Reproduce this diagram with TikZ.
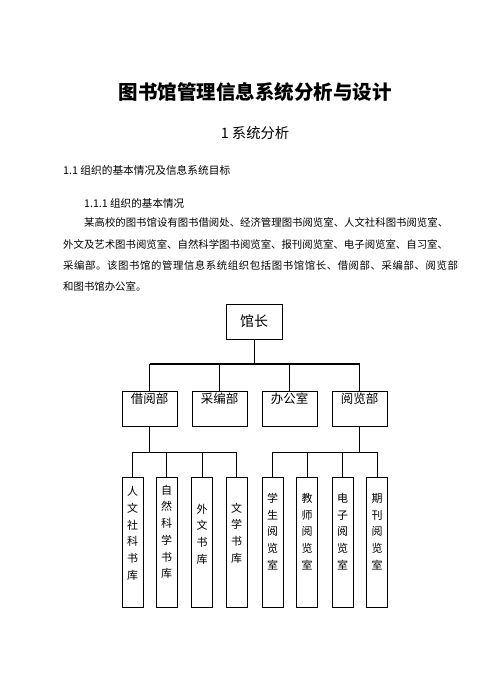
\documentclass[tikz,border=0pt]{standalone}
\usepackage{fontspec}
\setmainfont{Noto Sans CJK SC}
\tikzset{
  box/.style={draw, line width=0.8pt, inner sep=0pt},
  topbox/.style={box, minimum width=56pt, minimum height=35pt, font=\fontsize{14}{16}\selectfont},
  deptbox/.style={box, minimum width=55pt, minimum height=35pt, text height=12.75pt, text depth=22.25pt, font=\fontsize{12.5}{14}\selectfont},
  leafbox/.style={box, minimum width=21pt, minimum height=130pt},
  leaftext/.style={inner sep=0pt, align=center, font=\fontsize{11}{16.7}\selectfont},
  link/.style={line width=0.8pt},
  bus/.style={line width=1.8pt},
  bodytext/.style={anchor=west, inner sep=0pt, font=\fontsize{10.4}{12}\selectfont},
  headtext/.style={inner sep=0pt},
}
\begin{document}
\begin{tikzpicture}[x=1pt,y=-1pt]
\fill[white] (0,0) rectangle (496,688);
\useasboundingbox (0,0) rectangle (496,688);

% headings
\node[headtext, font=\fontsize{19.5}{21}\selectfont\bfseries] (title) at (255,92) {图书馆管理信息系统分析与设计};
\node[headtext, font=\fontsize{14.3}{16}\selectfont] (sec) at (255,133) {1 系统分析};
\node[headtext, anchor=west, font=\fontsize{10.7}{12}\selectfont] (sub) at (63,170) {1.1 组织的基本情况及信息系统目标};
\node[headtext, anchor=west, font=\fontsize{10.6}{12}\selectfont] (subsub) at (84,203) {1.1.1 组织的基本情况};

% body
\node[bodytext] (p1) at (84,223) {某高校的图书馆设有图书借阅处、经济管理图书阅览室、人文社科图书阅览室、};
\node[bodytext] (p2) at (63,244.5) {外文及艺术图书阅览室、自然科学图书阅览室、报刊阅览室、电子阅览室、自习室、};
\node[bodytext] (p3) at (63,266) {\addfontfeature{LetterSpace=5.6}采编部。该图书馆的管理信息系统组织包括图书馆馆长、借阅部、采编部、阅览部};
\node[bodytext] (p4) at (63,287) {和图书馆办公室。};

% chart
\node[topbox] (gz) at (254,321.5) {馆长};
\node[deptbox] (d1) at (149.5,408.5) {借阅部};
\node[deptbox] (d2) at (219.5,408.5) {采编部};
\node[deptbox] (d3) at (289.5,408.5) {办公室};
\node[deptbox] (d4) at (359.5,408.5) {阅览部};

\node[leafbox] (l1) at (132.5,542) {};
\node[leafbox] (l2) at (166.5,542) {};
\node[leafbox] (l3) at (202,542) {};
\node[leafbox] (l4) at (236.5,542) {};
\node[leafbox] (l5) at (272.5,542) {};
\node[leafbox] (l6) at (307,542) {};
\node[leafbox] (l7) at (342.5,542) {};
\node[leafbox] (l8) at (377,542) {};

\node[leaftext] (t1) at (l1 |- 0,533.5) {人\\文\\社\\科\\书\\库};
\node[leaftext] (t2) at (l2 |- 0,531.8) {自\\然\\科\\学\\书\\库};
\node[leaftext] (t3) at (l3 |- 0,534) {外\\文\\书\\库};
\node[leaftext] (t4) at (l4 |- 0,533) {文\\学\\书\\库};
\node[leaftext] (t5) at (l5 |- 0,531.5) {学\\生\\阅\\览\\室};
\node[leaftext] (t6) at (l6 |- 0,531.5) {教\\师\\阅\\览\\室};
\node[leaftext] (t7) at (l7 |- 0,531.5) {电\\子\\阅\\览\\室};
\node[leaftext] (t8) at (l8 |- 0,531.5) {期\\刊\\阅\\览\\室};

% connectors
\coordinate (j1) at (254,364);
\coordinate (j2) at (149.5,452);
\coordinate (j3) at (359.5,452);
\draw[link] (gz.south) -- (j1);
\draw[bus] (j1 -| d1.north) -- (j1 -| d4.north);
\foreach \d in {d1,d2,d3,d4} \draw[link] (j1 -| \d.north) -- (\d.north);
\draw[link] (d1.south) -- (j2);
\draw[link] (j2 -| l1.north) -- (j2 -| l4.north);
\foreach \l in {l1,l2,l3,l4} \draw[link] (j2 -| \l.north) -- (\l.north);
\draw[link] (d4.south) -- (j3);
\draw[link] (j3 -| l5.north) -- (j3 -| l8.north);
\foreach \l in {l5,l6,l7,l8} \draw[link] (j3 -| \l.north) -- (\l.north);
\end{tikzpicture}
\end{document}
